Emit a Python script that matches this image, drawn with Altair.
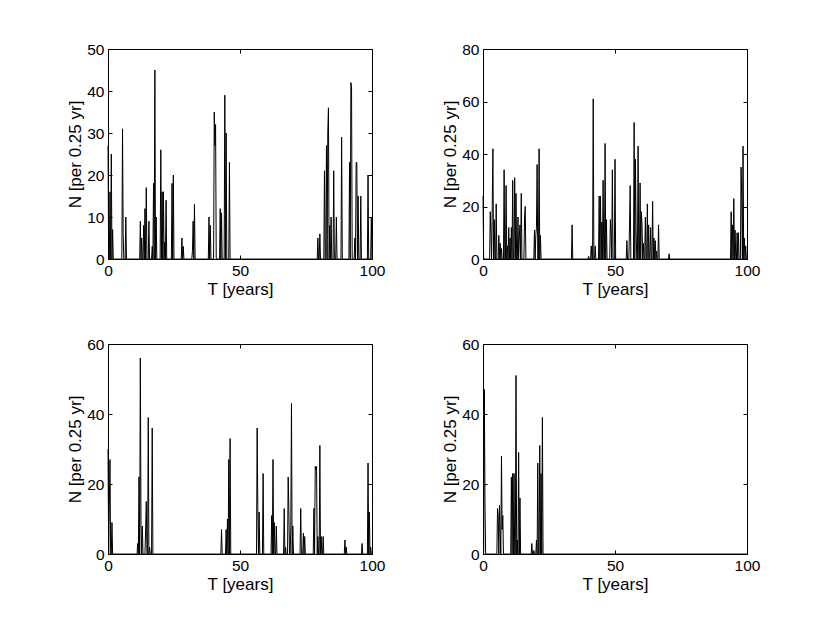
import altair as alt
import pandas as pd

STEP = 0.25
T_GRID = [i * STEP for i in range(401)]

# Top-left panel: spike times (years) and counts per 0.25 yr
tl_t = [0, 0.75, 1.25, 1.75, 5.5, 5.75, 6.75, 12.25, 12.75, 13.5, 14.0, 14.5, 15.5,
        16.75, 17.25, 17.75, 18.25, 20.0, 20.5, 21.0, 21.5, 22.0, 24.25, 24.75, 28.0,
        28.5, 32.0, 32.25, 32.75, 38.25, 38.75, 40.25, 40.5, 40.75, 42.5, 43.0, 44.25,
        44.75, 46.0, 79.5, 80.25, 82.0, 82.75, 83.25, 83.5, 84.0, 84.5, 85.5, 86.5,
        88.5, 91.5, 92.0, 92.25, 93.5, 94.0, 94.25, 94.75, 95.75, 98.5, 99.75]
tl_n = [27, 16, 25, 7, 31, 6, 10, 9, 5, 8, 12, 17, 9,
        3, 18, 45, 10, 26, 16, 16, 4, 14, 18, 20, 5,
        3, 2, 9, 13, 10, 8, 35, 27, 32, 12, 11, 39,
        30, 23, 5, 6, 21, 27, 30, 36, 8, 10, 21, 10,
        29, 23, 42, 41, 5, 23, 23, 15, 15, 20, 10]

# Top-right panel
tr_t = [0, 2.75, 3.0, 3.5, 3.75, 4.25, 5.0, 6.0, 6.5, 7.0, 8.0, 8.75, 9.25, 9.75,
        10.25, 10.75, 11.25, 12.0, 12.5, 13.25, 13.75, 14.0, 14.5, 15.75, 16.0, 19.5,
        20.0, 20.25, 20.5, 21.25, 21.75, 33.75, 40.0, 41.0, 41.75, 42.5, 44.0, 44.5,
        45.0, 45.5, 46.25, 46.75, 48.25, 48.5, 49.0, 50.0, 54.5, 55.5, 55.75, 57.25,
        57.75, 58.0, 58.75, 59.5, 60.0, 60.25, 60.75, 61.5, 62.25, 62.75, 63.5, 64.25,
        64.75, 65.25, 65.75, 66.5, 70.5, 94.0, 94.5, 95.0, 95.5, 96.25, 96.75, 97.75,
        98.0, 98.5, 99.0, 99.5]
tr_n = [24, 18, 10, 20, 42, 15, 21, 9, 6, 4, 34, 28, 5, 12,
        8, 12, 30, 31, 25, 16, 8, 13, 25, 16, 20, 11,
        9, 12, 36, 42, 9, 13, 1, 5, 61, 5, 24, 24,
        14, 30, 44, 15, 15, 10, 34, 38, 7, 13, 28, 52,
        38, 11, 43, 29, 18, 13, 6, 16, 21, 13, 12, 22,
        8, 7, 3, 13, 2, 18, 13, 23, 11, 10, 10, 35,
        24, 43, 8, 5]

# Bottom-left panel
bl_t = [0, 0.5, 0.75, 1.5, 11.25, 11.75, 12.25, 12.5, 13.0, 14.25, 14.5, 15.25,
        15.75, 16.75, 43.0, 44.75, 45.25, 45.75, 46.25, 56.5, 56.75, 57.25, 58.75,
        62.0, 62.5, 63.0, 63.75, 66.75, 67.25, 68.25, 68.5, 69.25, 69.5, 70.0, 73.0,
        74.0, 74.5, 78.0, 78.5, 78.75, 79.0, 79.5, 80.25, 80.75, 81.5, 89.75, 90.25,
        96.25, 98.5, 99.0, 99.5]
bl_n = [30, 14, 27, 9, 3, 22, 56, 8, 8, 7, 15, 39,
        2, 36, 7, 7, 10, 27, 33, 36, 13, 12, 23,
        11, 27, 9, 8, 13, 2, 22, 13, 8, 43, 8, 13,
        6, 5, 13, 25, 24, 25, 5, 31, 5, 5, 4, 2,
        3, 26, 12, 2]

# Bottom-right panel
br_t = [0.5, 0.75, 5.5, 5.75, 6.25, 6.5, 7.0, 7.25, 7.5, 10.75, 11.25, 11.75, 12.5,
        13.0, 13.5, 14.0, 18.5, 19.25, 20.25, 20.75, 21.5, 22.0, 22.5]
br_n = [47, 15, 13, 11, 14, 6, 28, 7, 11, 22, 23, 23, 51,
        4, 29, 16, 3, 1, 4, 26, 31, 23, 39]

X_TICKS = [0, 50, 100]
X_TITLE = "T [years]"
Y_TITLE = "N [per 0.25 yr]"


def panel(t_list, n_list, ymax, ystep):
    lookup = dict(zip(t_list, n_list))
    df = pd.DataFrame({"t": T_GRID, "n": [lookup.get(t, 0) for t in T_GRID]})
    xs = alt.Scale(domain=[0, 100], nice=False, zero=False)
    ys = alt.Scale(domain=[0, ymax], nice=False)
    yvals = list(range(0, ymax + 1, ystep))
    main = alt.Chart(df).mark_line(color="black", strokeWidth=1).encode(
        x=alt.X("t:Q", scale=xs,
                axis=alt.Axis(values=X_TICKS, title=X_TITLE, orient="bottom",
                              offset=-4, tickSize=4, domain=False, grid=False,
                              labelFlush=False, labelPadding=4, titlePadding=3)),
        y=alt.Y("n:Q", scale=ys,
                axis=alt.Axis(values=yvals, title=Y_TITLE, orient="left",
                              offset=-4, tickSize=4, domain=False, grid=False,
                              labelFlush=False, labelPadding=4, titlePadding=2)),
    )
    mirror = alt.Chart(df).mark_line(strokeOpacity=0).encode(
        x=alt.X("t:Q", scale=xs,
                axis=alt.Axis(values=X_TICKS, title=None, orient="top", labels=False,
                              offset=-4, tickSize=4, domain=False, grid=False)),
        y=alt.Y("n:Q", scale=ys,
                axis=alt.Axis(values=yvals, title=None, orient="right", labels=False,
                              offset=-4, tickSize=4, domain=False, grid=False)),
    )
    return alt.layer(main, mirror).resolve_axis(x="independent", y="independent").properties(
        width=264, height=210)


p1 = panel(tl_t, tl_n, 50, 10)
p2 = panel(tr_t, tr_n, 80, 20)
p3 = panel(bl_t, bl_n, 60, 20)
p4 = panel(br_t, br_n, 60, 20)

chart = alt.concat(
    p1, p2, p3, p4, columns=2,
    spacing=alt.RowColnumber(row=85, column=111),
    bounds="flush",
).properties(
    padding={"left": 58, "top": 33, "right": 5, "bottom": 5},
    background="white",
).configure_axis(
    labelFont="Liberation Sans", labelFontSize=15.5, labelColor="black",
    titleFont="Liberation Sans", titleFontSize=17, titleFontWeight="normal",
    titleColor="black", tickColor="black", tickWidth=1,
).configure_view(
    stroke="black", strokeWidth=1,
)

chart.save("out.html", embed_options={"renderer": "svg", "actions": False})
